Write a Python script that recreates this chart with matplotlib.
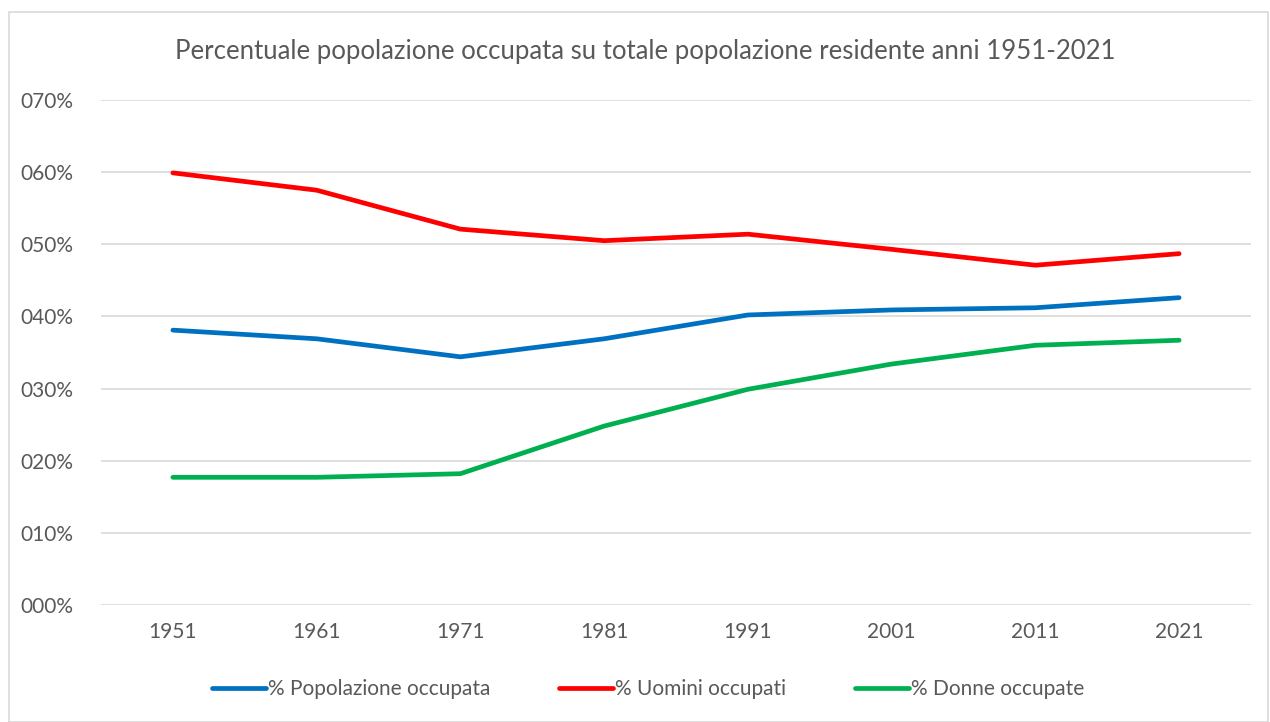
import matplotlib
matplotlib.use("Agg")
import matplotlib.pyplot as plt
from matplotlib.ticker import FuncFormatter
from matplotlib.patches import Rectangle

years = ["1951", "1961", "1971", "1981", "1991", "2001", "2011", "2021"]
pop_occupata = [0.381, 0.369, 0.344, 0.369, 0.402, 0.409, 0.412, 0.426]
uomini_occupati = [0.599, 0.575, 0.521, 0.505, 0.514, 0.493, 0.471, 0.487]
donne_occupate = [0.177, 0.177, 0.182, 0.248, 0.299, 0.334, 0.360, 0.367]

series_labels = ["% Popolazione occupata", "% Uomini occupati", "% Donne occupate"]
colors = ["#0070C0", "#FF0000", "#00B050"]
title = "Percentuale popolazione occupata su totale popolazione residente anni 1951-2021"

plt.rcParams['font.family'] = ['Lato', 'DejaVu Sans']
W, H = 1270, 722
fig = plt.figure(figsize=(W / 100, H / 100), dpi=100)
fig.patch.set_facecolor("white")

# chart border
fig.patches.append(Rectangle((9 / W, 0), (1268 - 9) / W, (H - 12) / H, transform=fig.transFigure,
                             fill=False, edgecolor="#D9D9D9", linewidth=1.2))

left, right = 101 / W, 1251 / W
bottom, top = 1 - 605 / H, 1 - 100 / H
ax = fig.add_axes([left, bottom, right - left, top - bottom])

x = list(range(len(years)))
for vals, c, lab in zip([pop_occupata, uomini_occupati, donne_occupate], colors, series_labels):
    ax.plot(x, vals, color=c, linewidth=3.4, label=lab, solid_capstyle="round", solid_joinstyle="round")

ax.set_xlim(-0.5, len(years) - 0.5)
ax.set_ylim(0, 0.70)
ax.set_yticks([i / 10 for i in range(8)])
ax.yaxis.set_major_formatter(FuncFormatter(lambda v, p: "%03d%%" % round(v * 100)))
ax.set_xticks(x)
ax.set_xticklabels(years)
ax.grid(axis="y", color="#D9D9D9", linewidth=1.2)
ax.set_axisbelow(True)
for s in ax.spines.values():
    s.set_visible(False)
ax.tick_params(axis="both", length=0, labelsize=15, colors="#595959")
ax.tick_params(axis="y", pad=20)
ax.tick_params(axis="x", pad=12)

fig.text(645 / W, 1 - 51 / H, title, ha="center", va="center", fontsize=18.5, color="#595959")

leg = fig.legend(loc="center", bbox_to_anchor=(648 / W, 1 - 689 / H), ncol=3, frameon=False,
                 fontsize=15, handlelength=2.6, handletextpad=0.1, columnspacing=3.3)
for t in leg.get_texts():
    t.set_color("#595959")

fig.savefig("out.png", dpi=100)
